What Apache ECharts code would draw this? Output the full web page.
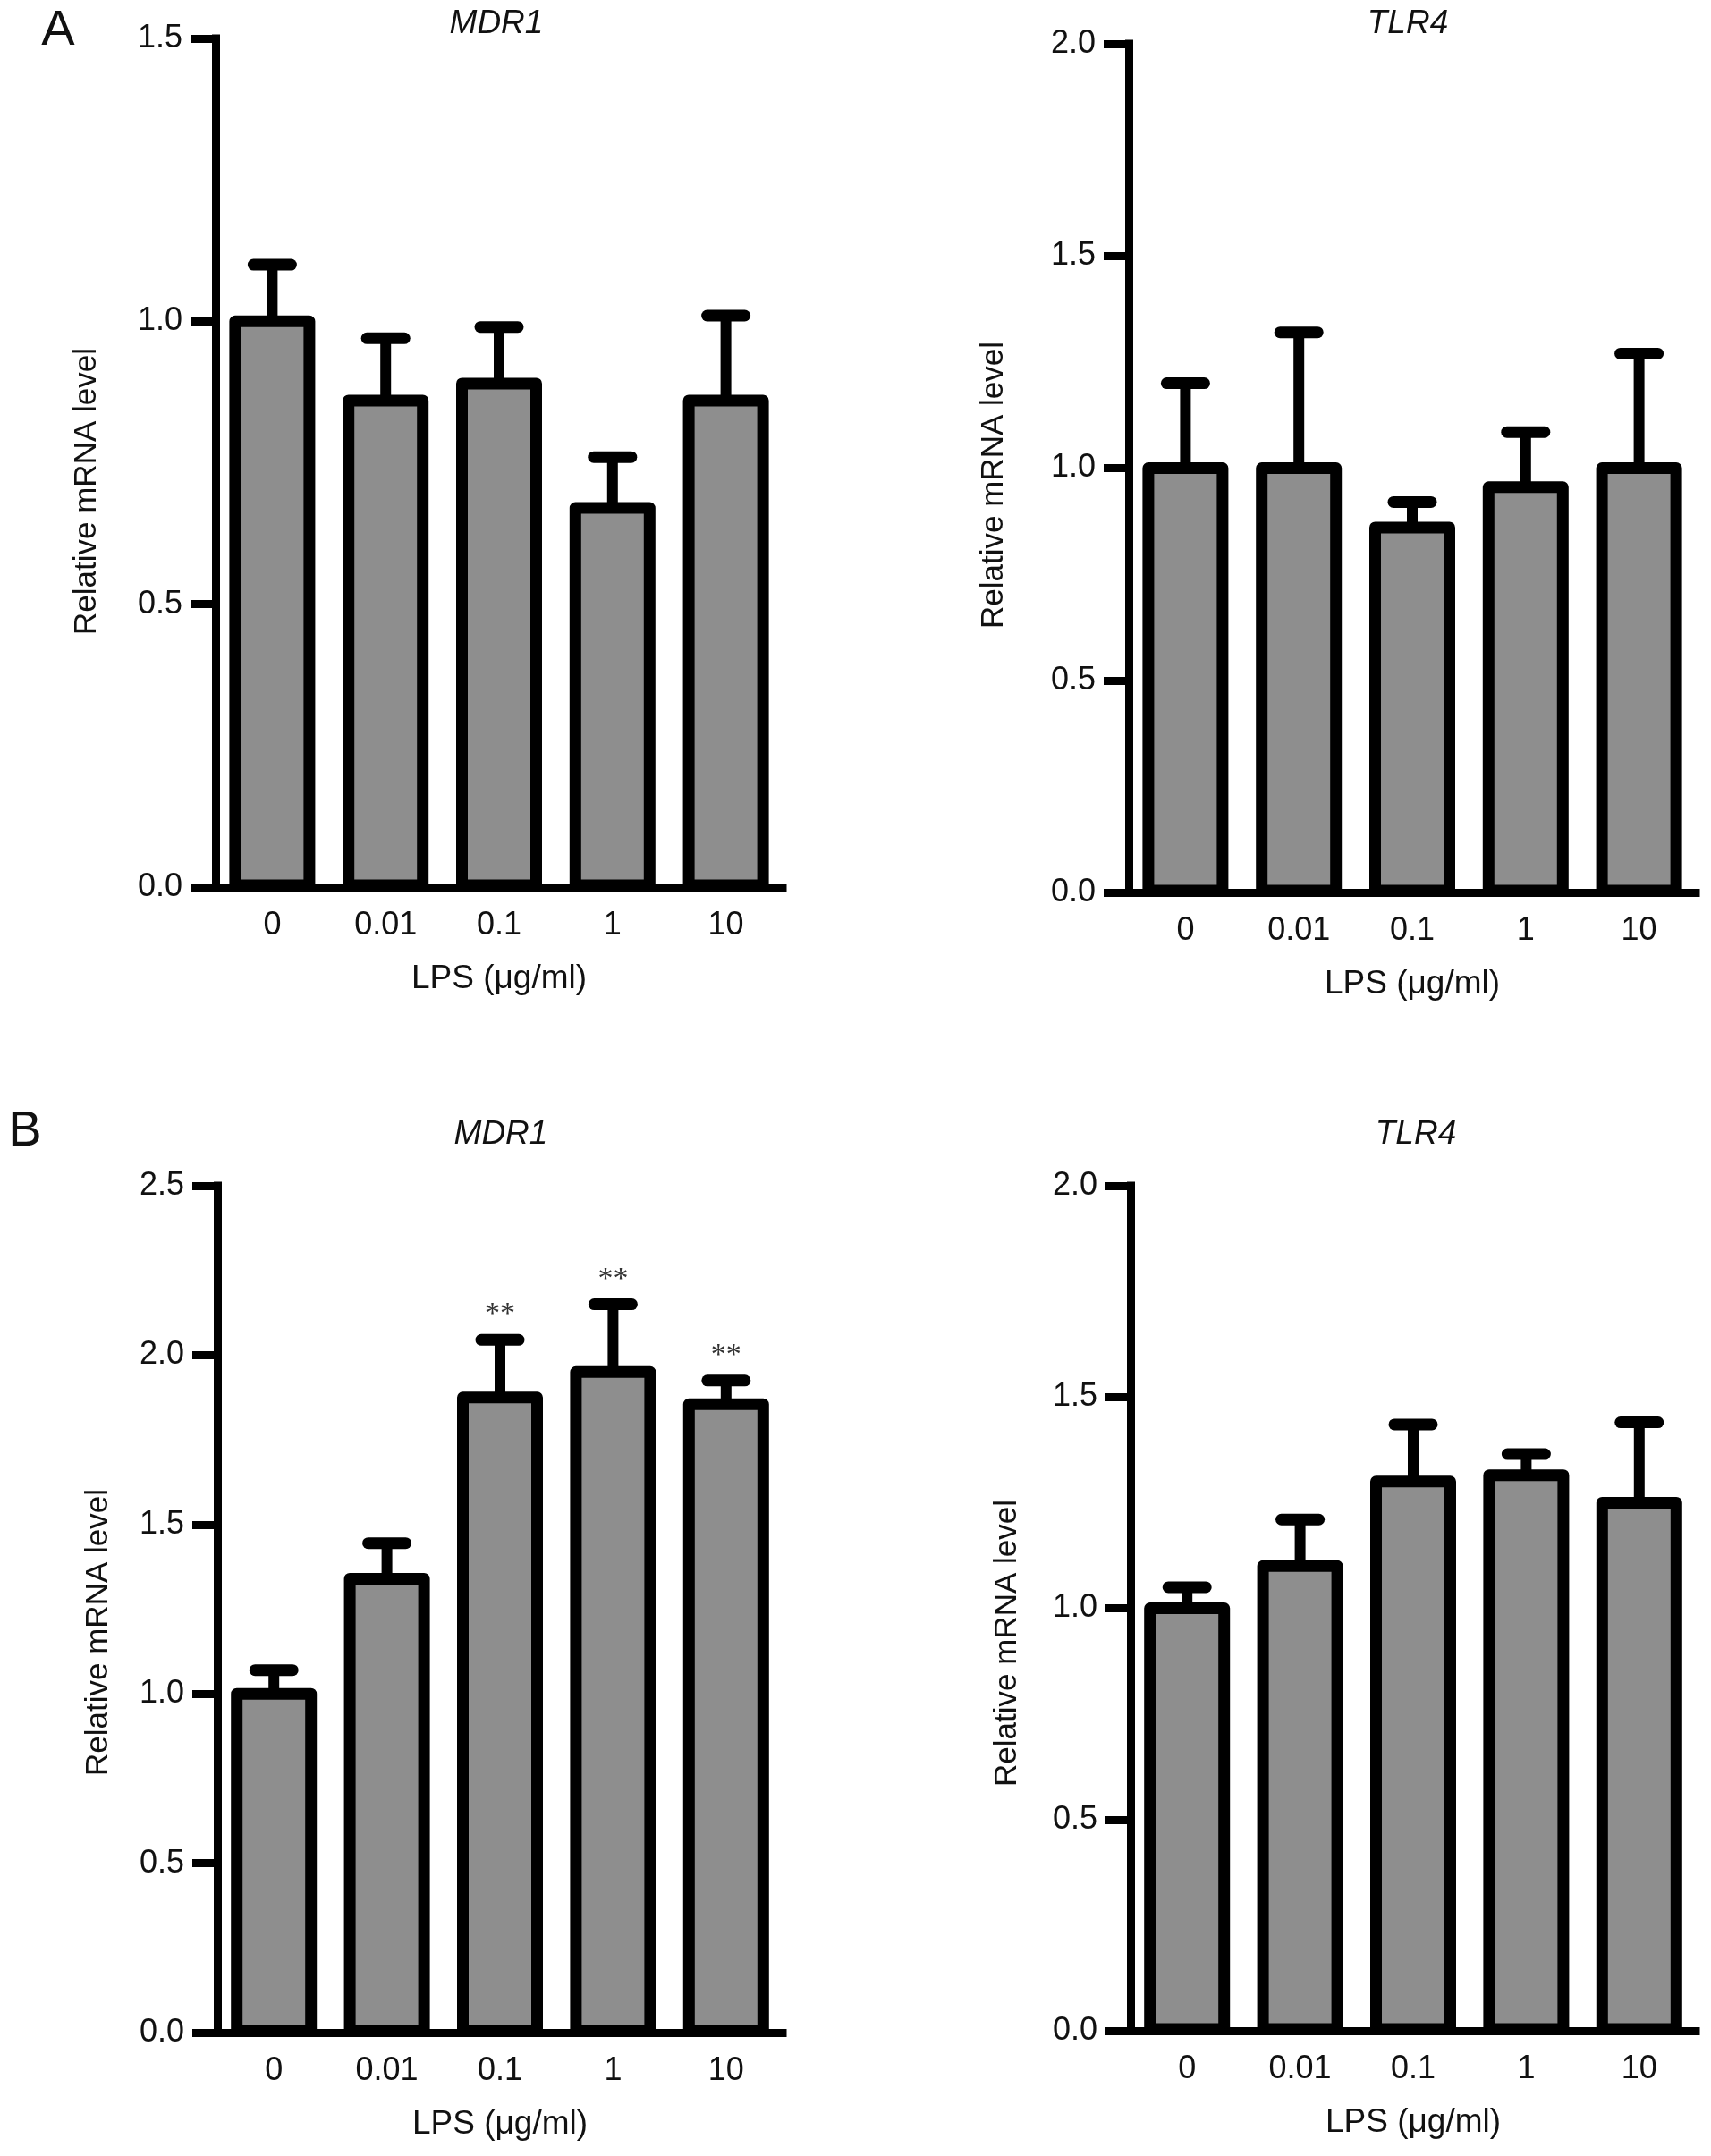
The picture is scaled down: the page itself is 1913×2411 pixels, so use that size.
<!DOCTYPE html>
<html>
<head>
<meta charset="utf-8">
<script src="https://cdn.jsdelivr.net/npm/echarts@6/dist/echarts.min.js"></script>
<style>
  html, body { margin: 0; padding: 0; background: #fff; }
  #fig { width: 1913px; height: 2411px; }
</style>
</head>
<body>
<div id="fig"></div>
<script>
/* ---------- data ---------- */
const doses = ['0', '0.01', '0.1', '1', '10'];

// A: MDR1 / TLR4
const mdr1A    = [1.00, 0.86, 0.89, 0.67, 0.86];
const mdr1AErr = [0.10, 0.11, 0.10, 0.09, 0.15];
const tlr4A    = [1.00, 1.00, 0.86, 0.955, 1.00];
const tlr4AErr = [0.20, 0.32, 0.06, 0.13, 0.27];

// B: MDR1 / TLR4
const mdr1B    = [1.00, 1.34, 1.875, 1.95, 1.855];
const mdr1BErr = [0.07, 0.105, 0.17, 0.20, 0.07];
const mdr1BSig = ['', '', '**', '**', '**'];
const tlr4B    = [1.00, 1.10, 1.30, 1.315, 1.25];
const tlr4BErr = [0.05, 0.11, 0.135, 0.05, 0.19];

const yMax = [1.5, 2.0, 2.5, 2.0];

/* ---------- style ---------- */
const FONT = '"Liberation Sans", Arial, Helvetica, sans-serif';
const INK = '#111';
const BAR_GREY = '#8e8e8e';
const BAR_W = 83;      // centre-line width of the bar outline
const BAR_LINE = 13;   // outline thickness

// grid boxes (pixels)
const grids = [
  {left: 241,  top: 43,   width: 634, height: 949},
  {left: 1262, top: 49,   width: 634, height: 949},
  {left: 243,  top: 1326, width: 632, height: 947},
  {left: 1264, top: 1326, width: 632, height: 945}
];
const yNameGap   = [126, 133, 115, 120];
const yNameShift = [32, 19, 26, 39];

const chart = echarts.init(document.getElementById('fig'));

function xAxisFor(i) {
  return {
    type: 'category', gridIndex: i, data: doses,
    axisLine: {lineStyle: {color: '#000', width: 9, cap: 'square'}},
    axisTick: {show: false},
    axisLabel: {color: INK, fontSize: 36, fontFamily: FONT, margin: 25},
    name: 'LPS (μg/ml)', nameLocation: 'middle', nameGap: 84,
    nameTextStyle: {color: INK, fontSize: 37, fontFamily: FONT}
  };
}

function yAxisFor(i) {
  return {
    type: 'value', gridIndex: i, min: 0, max: yMax[i], interval: 0.5,
    splitLine: {show: false},
    axisLine: {show: true, lineStyle: {color: '#000', width: 9, cap: 'square'}},
    axisTick: {show: true, length: 28, lineStyle: {color: '#000', width: 9}},
    axisLabel: {color: INK, fontSize: 36, fontFamily: FONT, margin: 37,
      formatter: v => v.toFixed(1)},
    name: 'Relative mRNA level', nameLocation: 'middle', nameGap: yNameGap[i],
    nameTextStyle: {color: INK, fontSize: 35, fontFamily: FONT,
      padding: [0, yNameShift[i] * 2, 0, 0]}
  };
}

// bars: outline centred on the value line, like the original GraphPad plot
function barSeries(i, vals) {
  return {
    type: 'custom', xAxisIndex: i, yAxisIndex: i, z: 2,
    data: vals.map((v, k) => [k, v]),
    renderItem: (params, api) => {
      const k = api.value(0);
      const top = api.coord([k, api.value(1)]);
      const base = api.coord([k, 0]);
      return {
        type: 'rect',
        shape: {x: top[0] - BAR_W / 2, y: top[1], width: BAR_W, height: base[1] - 2 - top[1]},
        style: {fill: BAR_GREY, stroke: '#000', lineWidth: BAR_LINE, lineJoin: 'round'}
      };
    }
  };
}

function errSeries(i, vals, errs, sig) {
  return {
    type: 'custom', xAxisIndex: i, yAxisIndex: i, z: 3,
    data: vals.map((v, k) => [k, v, errs[k]]),
    renderItem: (params, api) => {
      const k = api.value(0);
      const base = api.coord([k, api.value(1)]);
      const tip = api.coord([k, api.value(1) + api.value(2)]);
      const kids = [
        {type: 'line', shape: {x1: base[0], y1: base[1], x2: tip[0], y2: tip[1]},
          style: {stroke: '#000', lineWidth: 12}},
        {type: 'line', shape: {x1: tip[0] - 21, y1: tip[1], x2: tip[0] + 21, y2: tip[1]},
          style: {stroke: '#000', lineWidth: 13, lineCap: 'round'}}
      ];
      const s = sig ? sig[params.dataIndex] : '';
      if (s) {
        kids.push({type: 'text',
          style: {text: s, x: tip[0], y: tip[1] - 28, align: 'center', verticalAlign: 'middle',
            fontSize: 34, fontFamily: '"Liberation Serif", serif', fill: '#333'}});
      }
      return {type: 'group', children: kids};
    }
  };
}

const titleText = (x, y, text) => ({
  type: 'text', x: x, y: y,
  style: {text: text, align: 'center', verticalAlign: 'middle', fontSize: 37,
    fontStyle: 'italic', fontFamily: FONT, fill: INK}
});
const panelText = (x, y, text) => ({
  type: 'text', x: x, y: y,
  style: {text: text, align: 'center', verticalAlign: 'middle', fontSize: 56,
    fontFamily: FONT, fill: INK}
});

chart.setOption({
  animation: false,
  backgroundColor: '#fff',
  grid: grids.map(g => Object.assign({containLabel: false}, g)),
  xAxis: [0, 1, 2, 3].map(xAxisFor),
  yAxis: [0, 1, 2, 3].map(yAxisFor),
  series: [
    barSeries(0, mdr1A), errSeries(0, mdr1A, mdr1AErr),
    barSeries(1, tlr4A), errSeries(1, tlr4A, tlr4AErr),
    barSeries(2, mdr1B), errSeries(2, mdr1B, mdr1BErr, mdr1BSig),
    barSeries(3, tlr4B), errSeries(3, tlr4B, tlr4BErr)
  ],
  graphic: [
    panelText(65, 35, 'A'),
    panelText(28, 1266, 'B'),
    titleText(555, 27, 'MDR1'),
    titleText(1574, 27, 'TLR4'),
    titleText(560, 1269, 'MDR1'),
    titleText(1583, 1269, 'TLR4')
  ]
});
</script>
</body>
</html>
